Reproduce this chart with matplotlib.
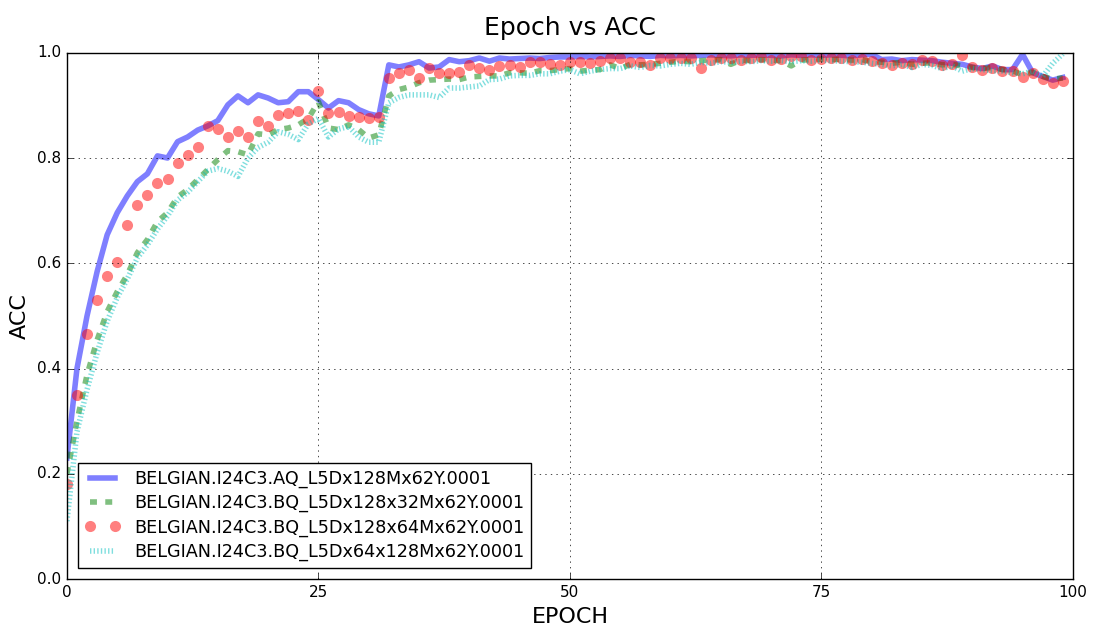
import numpy as np
import matplotlib
matplotlib.use("Agg")
import matplotlib.pyplot as plt

# accuracy per epoch
aq_128 = [0.23, 0.40, 0.50, 0.584, 0.654, 0.696, 0.728, 0.755, 0.77, 0.804,
          0.80, 0.831, 0.84, 0.853, 0.861, 0.871, 0.901, 0.918, 0.905, 0.92,
          0.914, 0.905, 0.907, 0.926, 0.926, 0.911, 0.895, 0.909, 0.905, 0.892,
          0.884, 0.88, 0.977, 0.973, 0.977, 0.983, 0.971, 0.973, 0.987, 0.983,
          0.985, 0.99, 0.984, 0.99, 0.988, 0.989, 0.99, 0.989, 0.991, 0.992,
          0.992, 0.993, 0.992, 0.993, 0.994, 0.993, 0.995, 0.994, 0.993, 0.995,
          0.994, 0.995, 0.994, 0.995, 0.996, 0.995, 0.994, 0.996, 0.995, 0.996,
          0.995, 0.994, 0.996, 0.995, 0.996, 0.995, 0.996, 0.995, 0.994, 0.996,
          0.997, 0.987, 0.988, 0.985, 0.987, 0.986, 0.985, 0.982, 0.98, 0.978,
          0.973, 0.97, 0.975, 0.968, 0.968, 0.997, 0.962, 0.955, 0.948, 0.953]

bq_128x32 = [0.2, 0.3, 0.388, 0.454, 0.508, 0.546, 0.578, 0.62, 0.645, 0.679,
             0.696, 0.726, 0.74, 0.759, 0.778, 0.797, 0.814, 0.812, 0.806, 0.846,
             0.844, 0.854, 0.857, 0.863, 0.875, 0.907, 0.857, 0.854, 0.863, 0.854,
             0.838, 0.844, 0.918, 0.93, 0.935, 0.943, 0.948, 0.949, 0.95, 0.949,
             0.954, 0.955, 0.956, 0.956, 0.962, 0.962, 0.961, 0.966, 0.966, 0.968,
             0.97, 0.965, 0.967, 0.968, 0.977, 0.97, 0.978, 0.977, 0.978, 0.98,
             0.982, 0.984, 0.983, 0.985, 0.986, 0.987, 0.978, 0.986, 0.985, 0.987,
             0.986, 0.985, 0.975, 0.986, 0.987, 0.988, 0.987, 0.988, 0.986, 0.987,
             0.983, 0.982, 0.98, 0.982, 0.978, 0.98, 0.981, 0.977, 0.978, 0.975,
             0.972, 0.97, 0.972, 0.968, 0.966, 0.958, 0.963, 0.955, 0.95, 0.952]

bq_128x64 = [0.18, 0.35, 0.466, 0.53, 0.576, 0.603, 0.673, 0.71, 0.73, 0.753,
             0.76, 0.79, 0.806, 0.82, 0.861, 0.856, 0.84, 0.852, 0.84, 0.871,
             0.86, 0.882, 0.886, 0.89, 0.873, 0.928, 0.886, 0.888, 0.88, 0.878,
             0.876, 0.878, 0.952, 0.962, 0.968, 0.952, 0.971, 0.962, 0.962, 0.964,
             0.977, 0.971, 0.968, 0.975, 0.977, 0.973, 0.983, 0.983, 0.979, 0.977,
             0.983, 0.983, 0.98, 0.985, 0.99, 0.99, 0.983, 0.983, 0.977, 0.99,
             0.99, 0.99, 0.99, 0.971, 0.986, 0.99, 0.99, 0.986, 0.99, 0.992,
             0.986, 0.989, 0.993, 0.993, 0.986, 0.989, 0.99, 0.99, 0.987, 0.989,
             0.985, 0.98, 0.977, 0.981, 0.979, 0.987, 0.985, 0.977, 0.979, 0.996,
             0.973, 0.967, 0.971, 0.965, 0.965, 0.954, 0.962, 0.95, 0.943, 0.947]

bq_64x128 = [0.11, 0.28, 0.36, 0.43, 0.49, 0.535, 0.57, 0.61, 0.635, 0.665,
             0.69, 0.72, 0.735, 0.755, 0.775, 0.78, 0.775, 0.765, 0.80, 0.82,
             0.83, 0.85, 0.845, 0.835, 0.865, 0.875, 0.84, 0.855, 0.86, 0.84,
             0.83, 0.83, 0.905, 0.915, 0.92, 0.92, 0.92, 0.915, 0.933, 0.933,
             0.935, 0.937, 0.949, 0.95, 0.956, 0.957, 0.957, 0.96, 0.96, 0.965,
             0.968, 0.96, 0.965, 0.968, 0.97, 0.97, 0.975, 0.972, 0.976, 0.975,
             0.978, 0.98, 0.978, 0.982, 0.98, 0.983, 0.982, 0.984, 0.983, 0.985,
             0.984, 0.985, 0.983, 0.985, 0.984, 0.986, 0.985, 0.984, 0.983, 0.982,
             0.98, 0.978, 0.975, 0.978, 0.972, 0.978, 0.976, 0.97, 0.975, 0.965,
             0.97, 0.968, 0.966, 0.965, 0.962, 0.96, 0.965, 0.955, 0.98, 0.998]

labels = ["BELGIAN.I24C3.AQ_L5Dx128Mx62Y.0001",
          "BELGIAN.I24C3.BQ_L5Dx128x32Mx62Y.0001",
          "BELGIAN.I24C3.BQ_L5Dx128x64Mx62Y.0001",
          "BELGIAN.I24C3.BQ_L5Dx64x128Mx62Y.0001"]

epochs = np.arange(len(aq_128))

plt.style.use("classic")
plt.rcParams["font.family"] = ["DejaVu Sans"]

fig = plt.figure(figsize=(10.97, 6.28), dpi=100, facecolor="white")
ax = fig.add_axes([0.061, 0.078, 0.917, 0.838])

ax.plot(epochs, aq_128, "b-", lw=4, alpha=0.5, label=labels[0])
ax.plot(epochs, bq_128x32, "g--", lw=4, alpha=0.5, dashes=(5, 6), label=labels[1])
ax.plot(epochs, bq_128x64, "ro", ms=8, mew=0, alpha=0.5, label=labels[2])
ax.plot(epochs, bq_64x128, "c:", lw=4, alpha=0.5, dashes=(1, 1.6), label=labels[3])

ax.set_xlim(0, 100)
ax.set_ylim(0, 1.0)
ax.set_xticks([0, 25, 50, 75, 100])
ax.grid(True)
ax.tick_params(labelsize=11)
ax.set_title("Epoch vs ACC", fontsize=18, y=1.02)
ax.set_xlabel("EPOCH", fontsize=16)
ax.set_ylabel("ACC", fontsize=16)
ax.legend(loc="lower left", fontsize=12.7, numpoints=2, labelspacing=0.35,
          borderaxespad=0.6)

fig.savefig("out.png", dpi=100, facecolor="white")
